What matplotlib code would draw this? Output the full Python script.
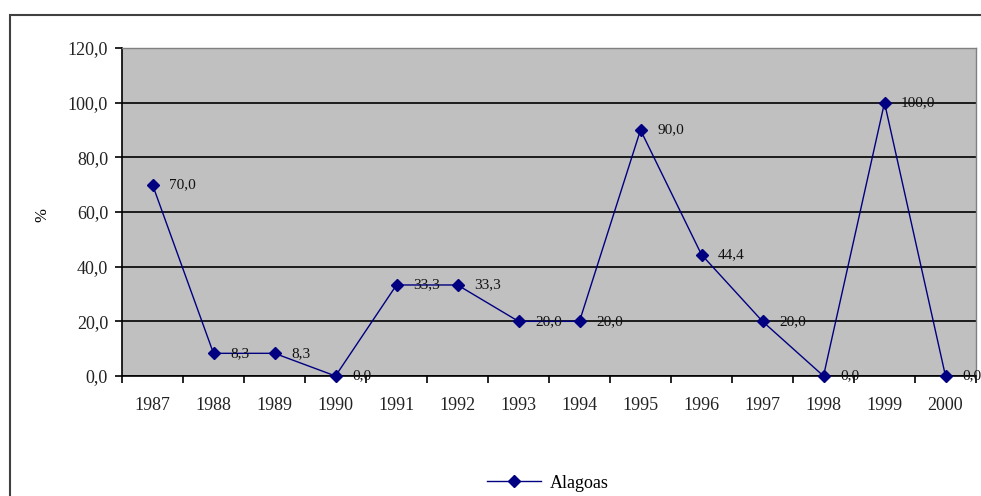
import matplotlib
matplotlib.use("Agg")
import matplotlib.pyplot as plt
from matplotlib.patches import Rectangle
import numpy as np

years = ["1987", "1988", "1989", "1990", "1991", "1992", "1993", "1994",
         "1995", "1996", "1997", "1998", "1999", "2000"]
values = [70.0, 8.3, 8.3, 0.0, 33.3, 33.3, 20.0, 20.0, 90.0, 44.4, 20.0, 0.0, 100.0, 0.0]
series_name = "Alagoas"
y_ticks = [0, 20, 40, 60, 80, 100, 120]

plt.rcParams['font.family'] = ['Liberation Serif', 'DejaVu Serif']

W, H = 981, 496
fig = plt.figure(figsize=(W / 100, H / 100), dpi=100)
fig.patch.set_facecolor("white")

# outer chart border
fig.patches.append(Rectangle((10 / W, -0.05), 1.2, 1 - 15 / H + 0.05,
                             transform=fig.transFigure, fill=False,
                             edgecolor="#404040", linewidth=1.5, zorder=0))

ax = fig.add_axes([122 / W, 1 - 376 / H, (976 - 122) / W, (376 - 48) / H])
ax.set_facecolor("#C0C0C0")

x = np.arange(len(years))
ax.plot(x, values, color="#000080", linewidth=1.0, marker="D", markersize=6,
        markerfacecolor="#000080", markeredgecolor="#000080", label=series_name,
        zorder=3, clip_on=False)

for xi, v in zip(x, values):
    ax.annotate(f"{v:.1f}".replace(".", ","), (xi, v), xytext=(12, 0),
                textcoords="offset points", va="center", ha="left",
                fontsize=11, color="#111111", zorder=4, annotation_clip=False)

ax.set_xlim(-0.5, len(years) - 0.5)
ax.set_ylim(0, 120)
ax.set_yticks(y_ticks)
ax.set_yticklabels([f"{t:.1f}".replace(".", ",") for t in y_ticks], fontsize=13,
                   color="#222222")
ax.yaxis.grid(True, color="black", linewidth=1.2)
ax.set_axisbelow(True)

ax.set_xticks(x)
ax.set_xticklabels(years, fontsize=13, color="#222222")
ax.set_xticks(np.arange(-0.5, len(years), 1), minor=True)
ax.tick_params(axis="x", which="major", length=0, pad=15)
ax.tick_params(axis="x", which="minor", length=5, width=1.2, direction="out", color="black")
ax.tick_params(axis="y", length=5, width=1.2, direction="out", pad=5)

for s in ["top", "right"]:
    ax.spines[s].set_color("#808080")
    ax.spines[s].set_linewidth(1.0)
for s in ["left", "bottom"]:
    ax.spines[s].set_color("black")
    ax.spines[s].set_linewidth(1.2)

fig.text(42 / W, 1 - 215 / H, "%", rotation=90, ha="center", va="center", fontsize=12)

leg = fig.legend(loc="center", bbox_to_anchor=(548 / W, 1 - 483 / H), frameon=False,
                 fontsize=13, handlelength=3, handletextpad=0.5)

fig.savefig("out.png", dpi=100)
